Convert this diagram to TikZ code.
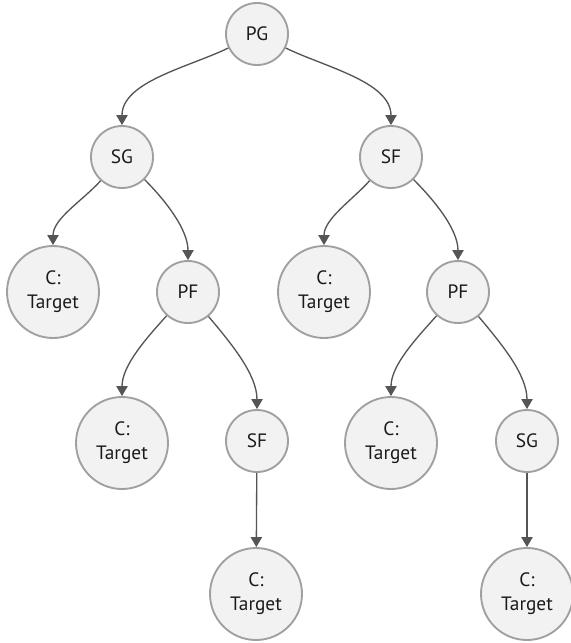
\documentclass[tikz,border=0pt]{standalone}
\usepackage{fontspec}
\setmainfont{PT Sans}
\usetikzlibrary{arrows.meta}
\definecolor{nodefill}{HTML}{F2F2F2}
\definecolor{nodeline}{HTML}{A0A0A0}
\definecolor{edgecol}{HTML}{555555}
\definecolor{txt}{HTML}{1A1A1A}
\begin{document}
\begin{tikzpicture}[x=0.75pt,y=-0.75pt,
  base/.style={circle,draw=nodeline,fill=nodefill,line width=1.4pt,inner sep=0pt,
    text=txt,font=\fontsize{14.5pt}{18pt}\selectfont,align=center},
  small/.style={base,minimum size=46.5pt},
  big/.style={base,minimum size=69pt},
  edge/.style={draw=edgecol,line width=1pt,-{Triangle[length=7.5pt,width=8.5pt]},looseness=0.85}]
\useasboundingbox (0,0) rectangle (571,643);
\node[small] (PG) at (257,34) {PG};
\node[small] (SG) at (122,157) {SG};
\node[small] (SF) at (391,157) {SF};
\node[big] (CT1) at (53,292) {C:\\Target};
\node[small] (PF1) at (188,292) {PF};
\node[big] (CT2) at (324,292) {C:\\Target};
\node[small] (PF2) at (458,292) {PF};
\node[big] (CT3) at (122,443) {C:\\Target};
\node[small] (SF2) at (257,441) {SF};
\node[big] (CT4) at (391,443) {C:\\Target};
\node[small] (SG2) at (527,441) {SG};
\node[big] (CT5) at (256,594) {C:\\Target};
\node[big] (CT6) at (527,594) {C:\\Target};
\draw[edge] (PG) to[out=206,in=90] (SG);
\draw[edge] (PG) to[out=-26,in=90] (SF);
\draw[edge] (SG) to[out=228,in=90] (CT1);
\draw[edge] (SG) to[out=-45,in=90] (PF1);
\draw[edge] (SF) to[out=228,in=90] (CT2);
\draw[edge] (SF) to[out=-45,in=90] (PF2);
\draw[edge] (PF1) to[out=228,in=90] (CT3);
\draw[edge] (PF1) to[out=-50,in=90] (SF2);
\draw[edge] (PF2) to[out=228,in=90] (CT4);
\draw[edge] (PF2) to[out=-50,in=90] (SG2);
\draw[edge] (SF2) -- (CT5);
\draw[edge] (SG2) -- (CT6);
\end{tikzpicture}
\end{document}
